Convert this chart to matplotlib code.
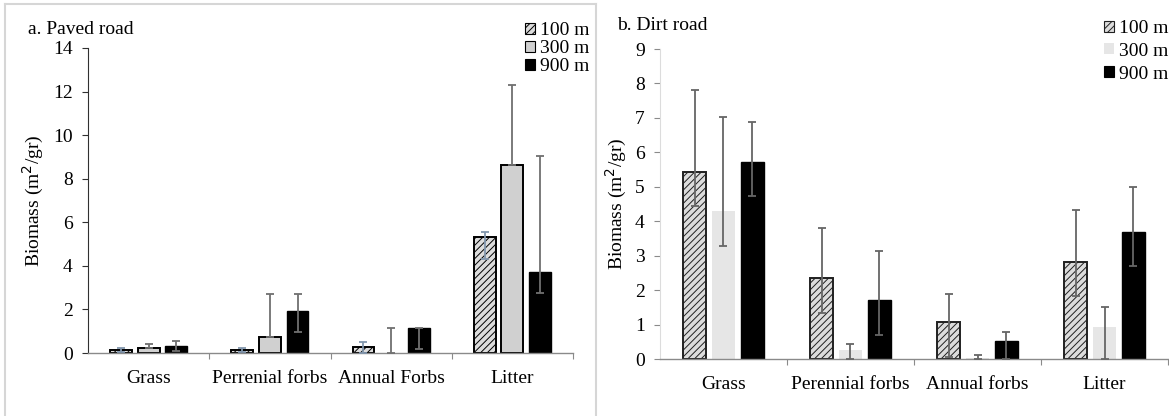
import numpy as np
import matplotlib.pyplot as plt
from matplotlib.patches import Patch
from matplotlib.lines import Line2D

plt.rcParams['font.family'] = ['Liberation Serif', 'DejaVu Serif']
plt.rcParams['hatch.linewidth'] = 0.7

categorias_a = ['Grass', 'Perrenial forbs', 'Annual Forbs', 'Litter']
categorias_b = ['Grass', 'Perennial forbs', 'Annual forbs', 'Litter']
distancias = ['100 m', '300 m', '900 m']

# a. Paved road: medias y errores (abajo, arriba)
paved_100 = [0.15, 0.15, 0.26, 5.34]
paved_100_lo = [0.10, 0.10, 0.26, 1.04]
paved_100_hi = [0.10, 0.10, 0.26, 0.23]
paved_300 = [0.22, 0.75, 0.0, 8.63]
paved_300_lo = [0.0, 0.0, 0.0, 0.0]
paved_300_hi = [0.19, 1.95, 1.16, 3.67]
paved_900 = [0.33, 1.93, 1.16, 3.73]
paved_900_lo = [0.25, 0.97, 0.99, 0.98]
paved_900_hi = [0.22, 0.77, 0.01, 5.32]

# b. Dirt road
dirt_100 = [5.42, 2.35, 1.07, 2.83]
dirt_100_lo = [0.97, 1.00, 1.00, 1.00]
dirt_100_hi = [2.38, 1.45, 0.81, 1.50]
dirt_300 = [4.30, 0.26, 0.04, 0.94]
dirt_300_lo = [1.01, 0.26, 0.04, 0.94]
dirt_300_hi = [2.73, 0.18, 0.08, 0.56]
dirt_900 = [5.72, 1.70, 0.52, 3.70]
dirt_900_lo = [1.00, 1.00, 0.52, 1.00]
dirt_900_hi = [1.16, 1.45, 0.27, 1.28]

fig = plt.figure(figsize=(11.69, 4.16), dpi=100)
W, H = 1169, 416

# marcos de los paneles
borde = '#d6d6d6'
fig.add_artist(Line2D([5/W, 5/W], [0, 1-4/H], color=borde, lw=1.5))
fig.add_artist(Line2D([5/W, 596/W], [1-4/H, 1-4/H], color=borde, lw=1.5))
fig.add_artist(Line2D([596/W, 596/W], [0, 1-4/H], color=borde, lw=1.5))

ax1 = fig.add_axes([88/W, 1-353/H, (573-88)/W, (353-48)/H])
ax2 = fig.add_axes([660/W, 1-359/H, (1168-660)/W, (359-49)/H])

paso = 0.228
ancho = 0.18
x = np.arange(4)


def dibujar(ax, cats, series, estilos, ecolors, ymax, spine_y, tick_y):
    for i, (v, lo, hi) in enumerate(series):
        st = estilos[i]
        pos = x + (i - 1) * paso
        lws = [st['lw'] if val > 0 else 0 for val in v]
        ax.bar(pos, v, ancho, color=st['fc'], edgecolor=st['ec'],
               linewidth=lws, hatch=st.get('hatch'), zorder=2)
        ax.errorbar(pos, v, yerr=[lo, hi], fmt='none', ecolor=ecolors[i],
                    elinewidth=1.3, capsize=2.6, capthick=1.3, zorder=3)
    ax.set_xlim(-0.5, 3.5)
    ax.set_ylim(0, ymax)
    ax.set_yticks(np.arange(0, ymax + 1, 2 if ymax > 10 else 1))
    for s in ['top', 'right']:
        ax.spines[s].set_visible(False)
    ax.spines['left'].set_color(spine_y)
    ax.spines['bottom'].set_color('#8a8a8a')
    ax.spines['bottom'].set_linewidth(1.0)
    ax.set_xticks([0.5, 1.5, 2.5, 3.5])
    ax.set_xticklabels([])
    ax.set_xticks(x, minor=True)
    ax.set_xticklabels(cats, minor=True, fontsize=14)
    ax.tick_params(axis='x', which='major', length=4, color='#8a8a8a', direction='out')
    ax.tick_params(axis='x', which='minor', length=0, pad=12)
    ax.tick_params(axis='y', length=4, color=tick_y, labelsize=14, pad=7)
    ax.set_ylabel('Biomass (m$^2$/gr)', fontsize=14)


est_a = [dict(fc='#dcdcdc', ec='black', lw=1.4, hatch='/////'),
         dict(fc='#d0d0d0', ec='black', lw=1.4),
         dict(fc='black', ec='black', lw=1.0)]
dibujar(ax1, categorias_a,
        [(paved_100, paved_100_lo, paved_100_hi),
         (paved_300, paved_300_lo, paved_300_hi),
         (paved_900, paved_900_lo, paved_900_hi)],
        est_a, ['#8196ad', '#707070', '#707070'], 14, '#303030', '#303030')
ax1.yaxis.set_label_coords(-0.087, 0.5)

est_b = [dict(fc='#dcdcdc', ec='#202020', lw=1.4, hatch='/////'),
         dict(fc='#e6e6e6', ec='none', lw=0),
         dict(fc='black', ec='black', lw=1.0)]
dibujar(ax2, categorias_b,
        [(dirt_100, dirt_100_lo, dirt_100_hi),
         (dirt_300, dirt_300_lo, dirt_300_hi),
         (dirt_900, dirt_900_lo, dirt_900_hi)],
        est_b, ['#666666', '#666666', '#666666'], 9, '#dcdcdc', '#8a8a8a')
ax2.yaxis.set_label_coords(-0.061, 0.5)

fig.text(28/W, 1-29/H, 'a. Paved road', fontsize=14, va='center', ha='left')
fig.text(617/W, 1-25/H, 'b. Dirt road', fontsize=14, va='center', ha='left')

h_a = [Patch(facecolor=e['fc'], edgecolor=e['ec'], hatch=e.get('hatch'), lw=0.8) for e in est_a]
h_b = [Patch(facecolor=e['fc'], edgecolor=e['ec'], hatch=e.get('hatch'), lw=0.8) for e in est_b]
ax1.legend(h_a, distancias, loc='upper left', bbox_to_anchor=(525/W, 1-22/H),
           bbox_transform=fig.transFigure, frameon=False, fontsize=14,
           handlelength=0.5, handleheight=0.5, handletextpad=0.25,
           labelspacing=0.05, borderpad=0, borderaxespad=0)
ax2.legend(h_b, distancias, loc='upper left', bbox_to_anchor=(1104/W, 1-20/H),
           bbox_transform=fig.transFigure, frameon=False, fontsize=14,
           handlelength=0.5, handleheight=0.5, handletextpad=0.25,
           labelspacing=0.3, borderpad=0, borderaxespad=0)

fig.savefig('out.png', dpi=100)
